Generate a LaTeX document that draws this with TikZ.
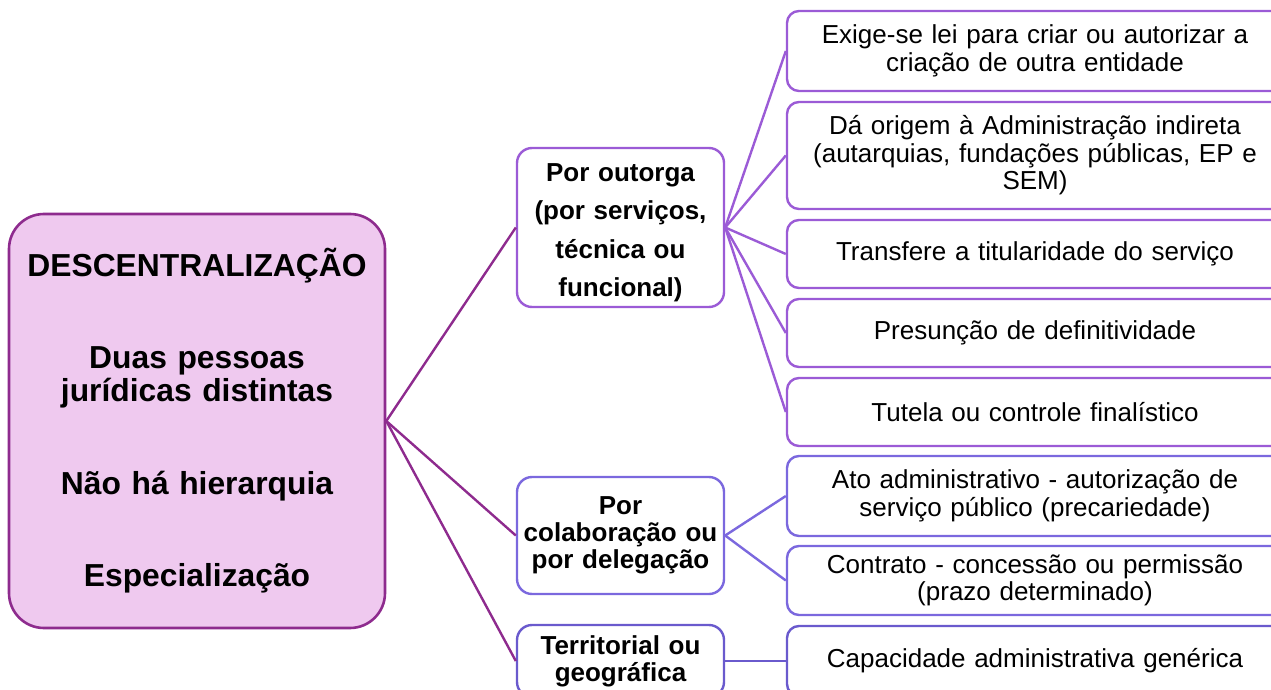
\documentclass[tikz,border=0pt]{standalone}
\usepackage{fontspec}
\setmainfont{Liberation Sans}
\definecolor{leftfill}{HTML}{EFC9EF}
\definecolor{leftdraw}{HTML}{8E2B8E}
\definecolor{lilac}{HTML}{9B5BD6}
\definecolor{bviolet}{HTML}{7B68DE}
\definecolor{slateb}{HTML}{6A5ACD}
\tikzset{
  rootbox/.style={draw=leftdraw, fill=leftfill, line width=2.6pt, rounded corners=35pt,
    minimum width=376pt, minimum height=414pt, inner sep=0pt, align=center,
    text width=376pt, font=\fontsize{31.8}{33}\selectfont\bfseries},
  midbox/.style={draw=#1, fill=white, line width=2.4pt, rounded corners=15pt,
    minimum width=207pt, inner sep=0pt, align=center, text width=207pt},
  leafbox/.style={draw=#1, fill=white, line width=2.4pt, rounded corners=12pt,
    minimum width=496pt, inner sep=0pt, align=center, text width=480pt,
    font=\fontsize{26}{27.5}\selectfont},
  conn/.style={draw=#1, line width=2.4pt},
}
\begin{document}
\begin{tikzpicture}[x=1pt,y=-1pt]
\useasboundingbox (0,0) rectangle (1271,690);
\clip (0,0) rectangle (1271,690);

\node[rootbox] (root) at (197,421) {DESCENTRALIZAÇÃO\\[59pt]Duas pessoas\\jurídicas distintas\\[60pt]Não há hierarquia\\[59pt]Especialização};

\node[midbox=lilac, minimum height=159pt, font=\fontsize{26}{38.5}\selectfont\bfseries] (m1) at (620.5,227.5) {\rule{0pt}{28pt}Por outorga\\(por serviços,\\técnica ou\\funcional)};
\node[midbox=bviolet, minimum height=117pt, font=\fontsize{26}{27}\selectfont\bfseries] (m2) at (620.5,535.5) {Por\\colaboração ou\\por delegação};
\node[midbox=slateb, minimum height=72pt, font=\fontsize{26}{27}\selectfont\bfseries] (m3) at (620.5,661) {Territorial ou\\geográfica};

\node[leafbox=lilac, minimum height=80pt] (r1) at (1035,51) {Exige-se lei para criar ou autorizar a\\criação de outra entidade};
\node[leafbox=lilac, minimum height=107pt] (r2) at (1035,155.5) {Dá origem à Administração indireta\\(autarquias, fundações públicas, EP e\\SEM)};
\node[leafbox=lilac, minimum height=68pt] (r3) at (1035,254) {Transfere a titularidade do serviço};
\node[leafbox=lilac, minimum height=68pt] (r4) at (1035,333) {Presunção de definitividade};
\node[leafbox=lilac, minimum height=68pt] (r5) at (1035,412) {Tutela ou controle finalístico};
\node[leafbox=bviolet, minimum height=80pt] (r6) at (1035,496) {Ato administrativo - autorização de\\serviço público (precariedade)};
\node[leafbox=bviolet, minimum height=69pt] (r7) at (1035,580.5) {Contrato - concessão ou permissão\\(prazo determinado)};
\node[leafbox=slateb, minimum height=70pt] (r8) at (1035,661) {Capacidade administrativa genérica};

\draw[conn=leftdraw] (root.east) -- (m1.west);
\draw[conn=leftdraw] (root.east) -- (m2.west);
\draw[conn=leftdraw] (root.east) -- (m3.west);

\foreach \r in {r1,r2,r3,r4,r5} \draw[conn=lilac] (m1.east) -- (\r.west);
\foreach \r in {r6,r7} \draw[conn=bviolet] (m2.east) -- (\r.west);
\draw[conn=slateb] (m3.east) -- (r8.west);
\end{tikzpicture}
\end{document}
